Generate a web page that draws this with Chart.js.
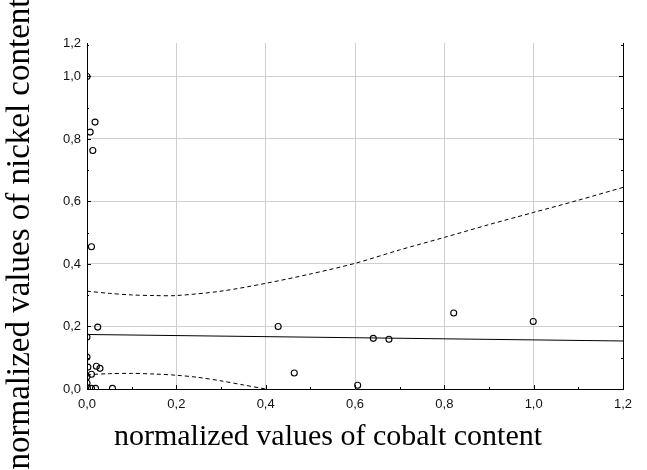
<!DOCTYPE html>
<html><head><meta charset="utf-8">
<script src="https://cdn.jsdelivr.net/npm/chart.js@4/dist/chart.umd.min.js"></script>
<style>html,body{margin:0;padding:0;background:#fff}#wrap{width:647px;height:470px}</style>
</head><body><div id="wrap"><canvas id="c" width="647" height="470"></canvas></div>
<script>
// ---- data ----
const cobalt = [0.000, 0.018, 0.007, 0.013, 0.010, 0.024, 0.000, 0.000, 0.002, 0.021, 0.029, 0.010, 0.000, 0.000, 0.001, 0.010, 0.019, 0.057, 0.428, 0.464, 0.606, 0.641, 0.676, 0.821, 0.999];
const nickel = [1.000, 0.854, 0.822, 0.763, 0.455, 0.198, 0.166, 0.102, 0.070, 0.073, 0.066, 0.047, 0.039, 0.019, 0.004, 0.002, 0.002, 0.002, 0.200, 0.051, 0.012, 0.162, 0.159, 0.243, 0.216];
const fitX = [0.0, 1.2];
const fitY = [0.1744, 0.1536];
const upperX = [0.0, 0.05, 0.1, 0.15, 0.2, 0.3, 0.4, 0.5, 0.6, 0.7, 0.8, 0.9, 1.0, 1.1, 1.2];
const upperY = [0.313, 0.306, 0.301, 0.299, 0.299, 0.313, 0.338, 0.368, 0.402, 0.445, 0.485, 0.526, 0.565, 0.604, 0.645];
const lowerX = [0.0, 0.05, 0.1, 0.15, 0.2, 0.25, 0.3, 0.35, 0.4];
const lowerY = [0.046, 0.049, 0.050, 0.048, 0.044, 0.037, 0.026, 0.013, 0.0];
const xTickValues = [0, 0.2, 0.4, 0.6, 0.8, 1.0, 1.2];
const xTickLabels = ['0,0', '0,2', '0,4', '0,6', '0,8', '1,0', '1,2'];
const yTickValues = [0, 0.2, 0.4, 0.6, 0.8, 1.0, 1.107];
const yTickLabels = ['0,0', '0,2', '0,4', '0,6', '0,8', '1,0', '1,2'];
const xTitle = 'normalized values of cobalt content';
const yTitle = 'normalized values of nickel content';

const toXY = (xs, ys) => xs.map((x, i) => ({x: x, y: ys[i]}));
const tickFont = {family: "'Liberation Sans', Arial, sans-serif", size: 13};

const framePlugin = {
  id: 'frame',
  afterDraw(chart) {
    const ctx = chart.ctx, a = chart.chartArea;
    const xs = chart.scales.x, ys = chart.scales.y;
    ctx.save();
    ctx.strokeStyle = '#000';
    ctx.lineWidth = 1;
    // right axis line
    ctx.beginPath();
    ctx.moveTo(Math.round(a.right) + 0.5, a.top);
    ctx.lineTo(Math.round(a.right) + 0.5, a.bottom + 0.5);
    ctx.stroke();
    // inward ticks, major every 0.2 and minor every 0.1
    ctx.beginPath();
    for (let k = 0; k <= 11; k++) {
      const v = k / 10;
      const len = (k % 2 === 0) ? 4 : 2;
      const py = Math.round(ys.getPixelForValue(v)) + 0.5;
      ctx.moveTo(a.left, py); ctx.lineTo(a.left + len, py);
      ctx.moveTo(a.right, py); ctx.lineTo(a.right - len, py);
    }
    for (let k = 0; k <= 12; k++) {
      const v = k / 10;
      const len = (k % 2 === 0) ? 4 : 2;
      const px = Math.round(xs.getPixelForValue(v)) + 0.5;
      ctx.moveTo(px, a.bottom); ctx.lineTo(px, a.bottom - len);
    }
    ctx.stroke();
    // axis titles
    ctx.fillStyle = '#000';
    ctx.font = "30px 'Liberation Serif', 'Times New Roman', serif";
    ctx.textAlign = 'center';
    ctx.textBaseline = 'middle';
    ctx.fillText(xTitle, 328, 437);
    ctx.translate(20, 234);
    ctx.rotate(-Math.PI / 2);
    ctx.font = "33px 'Liberation Serif', 'Times New Roman', serif";
    ctx.fillText(yTitle, 0, 0);
    ctx.restore();
  }
};

new Chart(document.getElementById('c'), {
  type: 'scatter',
  data: {
    datasets: [
      {data: toXY(fitX, fitY), showLine: true, pointRadius: 0, borderColor: '#000', borderWidth: 1, clip: 0},
      {data: toXY(upperX, upperY), showLine: true, pointRadius: 0, borderColor: '#000', borderWidth: 1, borderDash: [4, 3], tension: 0.3, clip: 0},
      {data: toXY(lowerX, lowerY), showLine: true, pointRadius: 0, borderColor: '#000', borderWidth: 1, borderDash: [4, 3], tension: 0.3, clip: 0},
      {data: toXY(cobalt, nickel), showLine: false, pointRadius: 3, pointHoverRadius: 3, pointStyle: 'circle', borderColor: '#000', backgroundColor: 'rgba(255,255,255,0)', borderWidth: 1.1, clip: 0}
    ]
  },
  options: {
    responsive: false,
    animation: false,
    devicePixelRatio: 1,
    layout: {padding: {top: 43, right: 24, left: 0, bottom: 0}},
    plugins: {legend: {display: false}, tooltip: {enabled: false}},
    scales: {
      x: {
        type: 'linear', min: 0, max: 1.2,
        afterBuildTicks: s => { s.ticks = xTickValues.map(v => ({value: v})); },
        afterFit: s => { s.height = 81; },
        ticks: {callback: (v, i) => xTickLabels[i], font: tickFont, color: '#111', padding: 8, maxRotation: 0, autoSkip: false},
        grid: {drawTicks: false, color: c => (c.tick && (c.tick.value === 0 || c.tick.value >= 1.19)) ? 'rgba(0,0,0,0)' : '#cfcfcf', lineWidth: 1},
        border: {display: true, color: '#000', width: 1}
      },
      y: {
        type: 'linear', min: 0, max: 1.107,
        afterBuildTicks: s => { s.ticks = yTickValues.map(v => ({value: v})); },
        afterFit: s => { s.width = 87; },
        ticks: {callback: (v, i) => yTickLabels[i], font: tickFont, color: '#111', padding: 6, autoSkip: false},
        grid: {drawTicks: false, color: c => (c.tick && (c.tick.value === 0 || c.tick.value > 1.05)) ? 'rgba(0,0,0,0)' : '#cfcfcf', lineWidth: 1},
        border: {display: true, color: '#000', width: 1}
      }
    }
  },
  plugins: [framePlugin]
});
</script>
</body></html>
